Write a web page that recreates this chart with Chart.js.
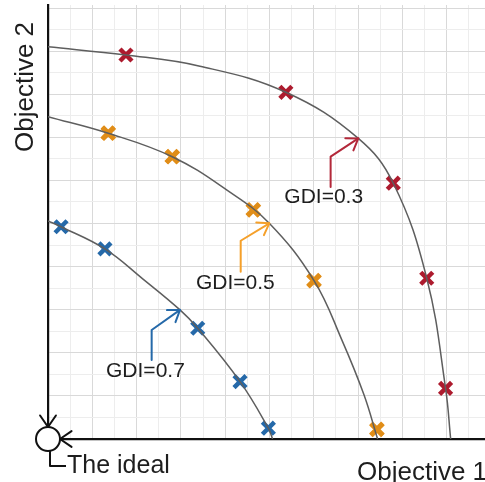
<!DOCTYPE html>
<html>
<head>
<meta charset="utf-8">
<script src="https://cdn.jsdelivr.net/npm/chart.js@4.4.1/dist/chart.umd.min.js"></script>
<style>
  body { margin: 0; background: #fff; }
  canvas { display: block; }
</style>
</head>
<body>
<canvas id="front" width="485" height="482"></canvas>
<script>
// points, in grid units (one unit = one small grid square)
const redCurveX = [0, 3.52, 6.86, 10.74, 14.01, 15.59, 17.10, 17.95, 18.18]
const redCurveY = [18.20, 17.82, 17.30, 16.09, 13.95, 11.87, 7.46, 2.35, 0]
const orangeCurveX = [0, 2.72, 5.61, 8.08, 9.99, 12.01, 13.27, 14.27, 14.88]
const orangeCurveY = [14.96, 14.19, 13.10, 11.55, 10.01, 7.35, 4.59, 2.04, 0]
const blueCurveX = [0, 0.59, 2.57, 4.29, 5.96, 6.76, 8.67, 9.95, 10.14]
const blueCurveY = [10.12, 9.85, 8.82, 7.42, 5.99, 5.14, 2.66, 0.50, 0]

const redX = [3.52, 10.74, 15.59, 17.10, 17.95]
const redY = [17.82, 16.09, 11.87, 7.46, 2.35]
const orangeX = [2.72, 5.61, 9.27, 12.01, 14.85]
const orangeY = [14.19, 13.10, 10.63, 7.35, 0.45]
const blueX = [0.59, 2.57, 6.76, 8.67, 9.95]
const blueY = [9.85, 8.82, 5.14, 2.66, 0.50]

const gdiLabels = ['GDI=0.3', 'GDI=0.5', 'GDI=0.7']
const axisNames = ['Objective 1', 'Objective 2', 'The ideal']

// where the GDI notes sit and where their arrows point (grid units)
const notePlace = [[10.67, 10.95], [6.68, 6.95], [2.62, 2.89]]
const noteArrow = [
    [[12.76, 11.69], [12.76, 13.10], [14.01, 13.95]],
    [[8.70, 7.76], [8.70, 9.20], [9.99, 10.01]],
    [[4.68, 3.67], [4.68, 5.06], [5.96, 5.99]],
]

const RED = '#ad1b2e'
const ORANGE = '#f5a02a'
const BLUE = '#2569a9'
const noteColors = ['#b3283a', ORANGE, BLUE]

const toPoints = (xs, ys) => xs.map((x, i) => ({x, y: ys[i]}))

const curve = (xs, ys) => ({
    data: toPoints(xs, ys),
    showLine: true,
    borderColor: '#5e5e5e',
    borderWidth: 1.5,
    pointRadius: 0,
    tension: 0.4,
})

const marks = (xs, ys, color, width) => ({
    data: toPoints(xs, ys),
    showLine: false,
    pointStyle: 'crossRot',
    pointRadius: 8.5,
    pointBorderColor: color,
    pointBorderWidth: width,
    pointBackgroundColor: color,
})

const arrowHead = (c, fx, fy, tx, ty, len, spread) => {
    const a = Math.atan2(ty - fy, tx - fx)
    c.beginPath()
    c.moveTo(tx - len * Math.cos(a - spread), ty - len * Math.sin(a - spread))
    c.lineTo(tx, ty)
    c.lineTo(tx - len * Math.cos(a + spread), ty - len * Math.sin(a + spread))
    c.stroke()
}

const decorations = {
    id: 'decorations',
    afterDatasetsDraw(chart) {
        const c = chart.ctx
        const xs = chart.scales.x
        const ys = chart.scales.y
        const ox = xs.getPixelForValue(0)
        const oy = ys.getPixelForValue(0)
        c.save()
        c.lineCap = 'round'
        c.lineJoin = 'round'

        // notes with bent arrows
        c.font = '21px "Liberation Sans", Arial, sans-serif'
        c.textBaseline = 'alphabetic'
        gdiLabels.forEach((txt, i) => {
            c.fillStyle = '#1e1e1e'
            c.fillText(txt, xs.getPixelForValue(notePlace[i][0]), ys.getPixelForValue(notePlace[i][1]))
            const p = noteArrow[i].map(q => [xs.getPixelForValue(q[0]), ys.getPixelForValue(q[1])])
            c.strokeStyle = noteColors[i]
            c.lineWidth = 2
            c.beginPath()
            c.moveTo(p[0][0], p[0][1])
            c.lineTo(p[1][0], p[1][1])
            c.lineTo(p[2][0], p[2][1])
            c.stroke()
            arrowHead(c, p[1][0], p[1][1], p[2][0], p[2][1], 13, 0.6)
        })

        // the ideal point with arrow heads of both axes
        c.strokeStyle = '#111'
        c.lineWidth = 2
        c.fillStyle = '#fff'
        c.beginPath()
        c.arc(ox, oy, 12, 0, Math.PI * 2)
        c.fill()
        c.stroke()
        arrowHead(c, ox, oy - 40, ox, oy - 12, 14, 0.6)
        arrowHead(c, ox + 40, oy, ox + 12, oy, 14, 0.6)
        c.lineCap = 'butt'
        c.beginPath()
        c.moveTo(ox + 2, oy + 12)
        c.lineTo(ox + 2, oy + 27)
        c.lineTo(ox + 18, oy + 27)
        c.stroke()

        c.fillStyle = '#1e1e1e'
        c.font = '25px "Liberation Sans", Arial, sans-serif'
        c.fillText(axisNames[2], ox + 19, oy + 34)
        c.font = '26px "Liberation Sans", Arial, sans-serif'
        c.fillText(axisNames[0], 357, 480)
        c.translate(33, 152)
        c.rotate(-Math.PI / 2)
        c.fillText(axisNames[1], 0, 0)
        c.restore()
    }
}

const gridColor = (ctx) => (ctx.tick && Math.round(ctx.tick.value) % 2 === 0) ? '#d9d9d9' : '#ededed'

const config = {
    type: 'scatter',
    data: {
        datasets: [
            curve(redCurveX, redCurveY),
            curve(orangeCurveX, orangeCurveY),
            curve(blueCurveX, blueCurveY),
            marks(redX, redY, RED, 4.5),
            marks(orangeX, orangeY, '#e08d18', 5.2),
            marks(orangeX, orangeY, ORANGE, 3.8),
            marks(blueX, blueY, BLUE, 4.5),
        ]
    },
    options: {
        responsive: false,
        animation: false,
        layout: {
            autoPadding: false,
            padding: {left: 48, top: 5, right: 0, bottom: 43}
        },
        scales: {
            x: {
                type: 'linear',
                min: 0,
                max: 19.73,
                ticks: {display: false, stepSize: 1, includeBounds: false},
                grid: {color: gridColor, lineWidth: 1, drawTicks: false},
                border: {display: true, color: '#111', width: 2.2},
            },
            y: {
                type: 'linear',
                min: 0,
                max: 20.14,
                ticks: {display: false, stepSize: 1, includeBounds: false},
                grid: {color: gridColor, lineWidth: 1, drawTicks: false},
                border: {display: true, color: '#111', width: 2.2},
            },
        },
        plugins: {
            legend: {display: false},
            tooltip: {enabled: false},
        },
    },
    plugins: [decorations],
}

const chart1 = new Chart(document.getElementById('front'), config)
</script>
</body>
</html>
